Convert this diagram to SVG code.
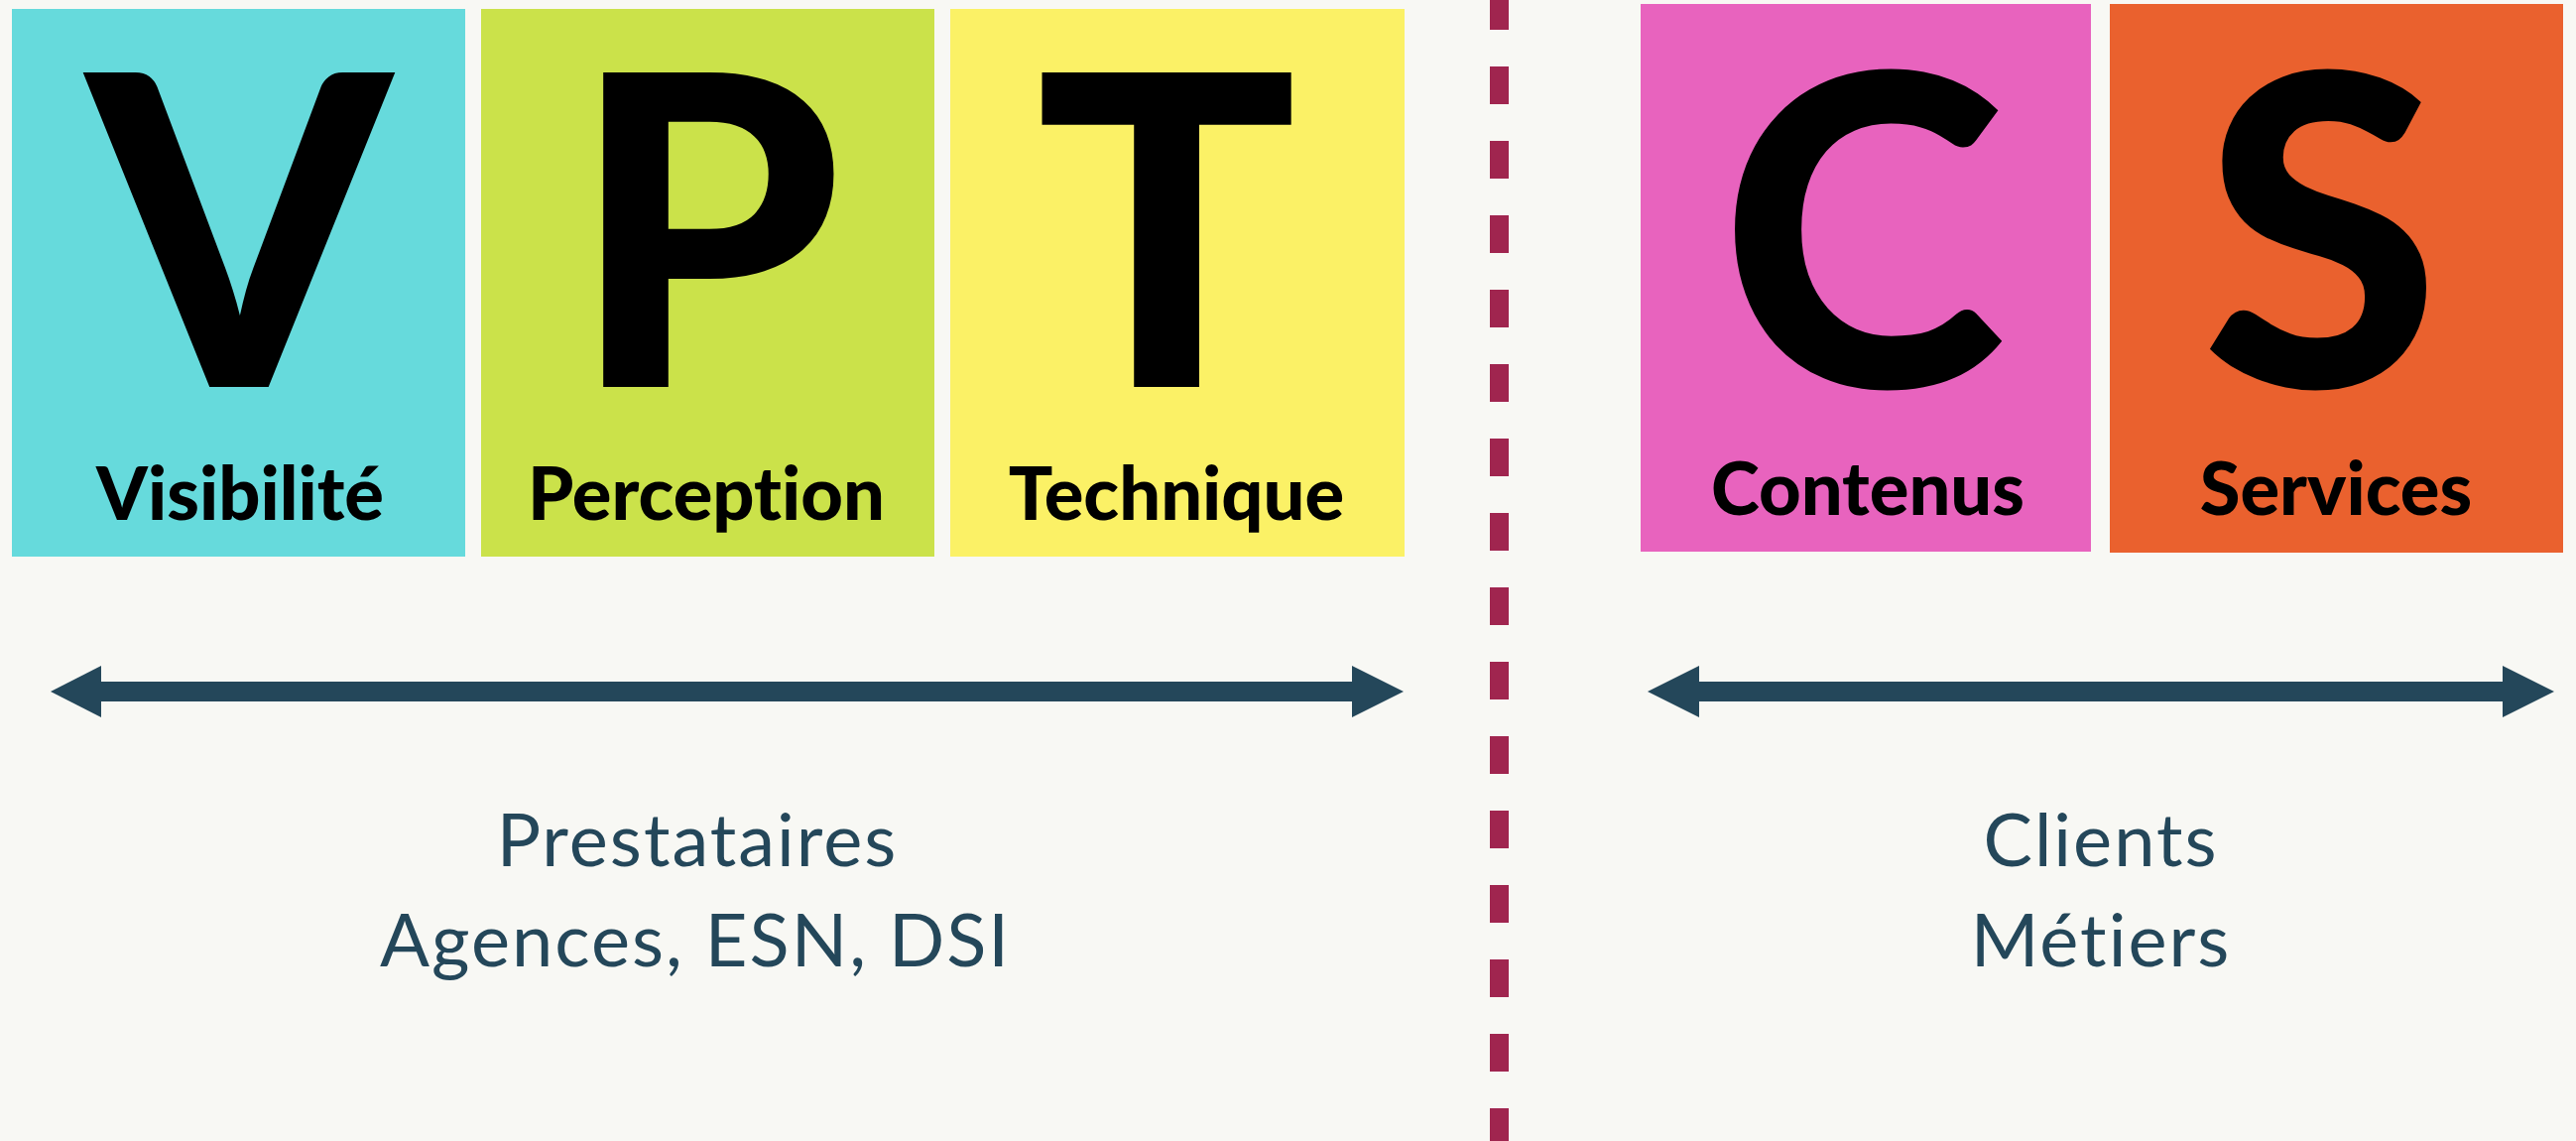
<svg xmlns="http://www.w3.org/2000/svg" width="2597" height="1150" viewBox="0 0 2597 1150">
<style>
text{font-variant-ligatures:none;font-feature-settings:"liga" 0,"dlig" 0}
.big{font-family:Lato,"Liberation Sans",sans-serif;font-weight:900;font-size:437px;fill:#000;text-anchor:middle}
.lbl{font-family:Lato,"Liberation Sans",sans-serif;font-weight:900;font-size:74px;fill:#000;text-anchor:middle}
.sub{font-family:Lato,"Liberation Sans",sans-serif;font-weight:400;font-size:74px;letter-spacing:2px;fill:#24475A;text-anchor:middle}
.arr{fill:#24475A}
</style>
<rect x="0" y="0" width="2597" height="1150" fill="#F8F8F4"/>
<g id="node-V">
<rect x="12" y="9" width="457" height="552" fill="#66DADC"/>
<text class="big" x="241" y="390">V</text>
<text class="lbl" x="242" y="524">Visibilité</text>
</g>
<g id="node-P">
<rect x="485" y="9" width="457" height="552" fill="#CBE24A"/>
<text class="big" x="712" y="390">P</text>
<text class="lbl" x="712" y="524">Perception</text>
</g>
<g id="node-T">
<rect x="958" y="9" width="458" height="552" fill="#FBF166"/>
<text class="big" x="1176" y="390">T</text>
<text class="lbl" x="1186" y="524">Technique</text>
</g>
<g id="node-C">
<rect x="1654" y="4" width="454" height="552" fill="#E863BE"/>
<text class="big" x="1878" y="390">C</text>
<text class="lbl" x="1883" y="519">Contenus</text>
</g>
<g id="node-S">
<rect x="2127" y="4" width="457" height="553" fill="#EA612E"/>
<text class="big" x="2340" y="390">S</text>
<text class="lbl" x="2355" y="519">Services</text>
</g>
<g id="connectors">
<line x1="1511.5" y1="0" x2="1511.5" y2="1150" stroke="#A0254F" stroke-width="19" stroke-dasharray="38 37" stroke-dashoffset="8"/>
<rect class="arr" x="102" y="687" width="1261" height="20"/>
<polygon class="arr" points="51,697 102,671 102,723"/>
<polygon class="arr" points="1415,697 1363,671 1363,723"/>
<rect class="arr" x="1713" y="687" width="810" height="20"/>
<polygon class="arr" points="1661,697 1713,671 1713,723"/>
<polygon class="arr" points="2575,697 2523,671 2523,723"/>
</g>
<g id="label-left">
<text class="sub" x="703" y="873">Prestataires</text>
<text class="sub" x="701" y="974">Agences, ESN, DSI</text>
</g>
<g id="label-right">
<text class="sub" x="2118" y="873">Clients</text>
<text class="sub" x="2118" y="974">Métiers</text>
</g>
</svg>
